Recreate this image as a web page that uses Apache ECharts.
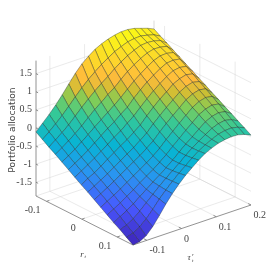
<!DOCTYPE html>
<html><head><meta charset="utf-8"><style>html,body{margin:0;padding:0;background:#fff}#c{width:277px;height:277px;filter:blur(0.35px)}</style>
<script src="https://cdn.jsdelivr.net/npm/echarts@6/dist/echarts.min.js"></script></head>
<body><div id="c"></div><script>
const rRange=[-0.13,0.145], tauRange=[-0.14,0.2], zRange=[-1.88,1.86];
const rTicks=[-0.1,0,0.1], tauTicks=[-0.1,0,0.1,0.2], zTicks=[-1.5,-1,-0.5,0,0.5,1,1.5];
const zLabel='Portfolio allocation';
// allocation[j][i]: j along tau (low to high), i along r (low to high)
const allocation=[
[-.11,-.23,-.35,-.46,-.58,-.70,-.82,-.94,-1.05,-1.17,-1.29,-1.41,-1.53,-1.64,-1.76,-1.88],
[.07,-.08,-.21,-.34,-.47,-.59,-.71,-.83,-.95,-1.07,-1.19,-1.31,-1.43,-1.57,-1.70,-1.85],
[.25,.08,-.07,-.21,-.35,-.48,-.60,-.73,-.84,-.96,-1.08,-1.20,-1.32,-1.46,-1.59,-1.75],
[.45,.25,.08,-.07,-.21,-.35,-.48,-.61,-.73,-.85,-.97,-1.08,-1.20,-1.31,-1.43,-1.56],
[.67,.44,.26,.08,-.07,-.21,-.35,-.48,-.61,-.73,-.85,-.96,-1.06,-1.14,-1.23,-1.32],
[.91,.64,.44,.25,.08,-.07,-.22,-.36,-.49,-.61,-.73,-.83,-.92,-.97,-1.01,-1.06],
[1.14,.83,.61,.41,.22,.07,-.09,-.23,-.37,-.49,-.61,-.71,-.78,-.80,-.82,-.83],
[1.34,1.00,.77,.55,.36,.19,.03,-.12,-.25,-.38,-.49,-.59,-.65,-.65,-.64,-.63],
[1.49,1.15,.92,.70,.50,.34,.18,.02,-.11,-.24,-.36,-.45,-.51,-.50,-.48,-.45],
[1.62,1.29,1.05,.83,.65,.47,.32,.16,.03,-.10,-.21,-.30,-.36,-.36,-.33,-.30],
[1.71,1.41,1.20,1.00,.82,.66,.50,.35,.22,.09,-.03,-.13,-.20,-.20,-.18,-.15],
[1.78,1.52,1.33,1.15,.98,.83,.67,.53,.39,.26,.13,.03,-.04,-.06,-.05,-.03],
[1.83,1.60,1.44,1.28,1.12,.98,.83,.69,.55,.42,.30,.19,.10,.07,.06,.06],
[1.86,1.67,1.53,1.39,1.25,1.11,.97,.83,.70,.57,.45,.34,.25,.19,.15,.13],
[1.86,1.70,1.60,1.48,1.36,1.23,1.10,.98,.85,.73,.61,.50,.39,.30,.23,.17],
[1.83,1.71,1.62,1.53,1.43,1.32,1.20,1.07,.95,.83,.71,.59,.48,.37,.27,.19],
[1.77,1.67,1.60,1.52,1.44,1.34,1.23,1.12,1.00,.88,.76,.64,.52,.40,.28,.18],
[1.71,1.62,1.55,1.48,1.40,1.31,1.20,1.08,.96,.85,.73,.61,.49,.36,.24,.13],
[1.63,1.52,1.42,1.31,1.21,1.10,1.00,.89,.79,.68,.58,.47,.37,.26,.16,.05]
];
const paletteStops=[0,.16,.31,.44,.57,.66,.72,.78,1];
const paletteColors=[[62,36,185],[72,88,255],[40,150,240],[8,180,212],[51,200,153],[127,205,89],[205,190,51],[255,187,60],[250,252,20]];
function cmap(t){t=Math.max(0,Math.min(1,t));let a=0;while(a<paletteStops.length-2&&t>paletteStops[a+1])a++;
 const k=(t-paletteStops[a])/(paletteStops[a+1]-paletteStops[a]);
 return 'rgb('+paletteColors[a].map((v,n)=>Math.round(v+(paletteColors[a+1][n]-v)*k)).join(',')+')';}
const corner={L:[36,196],F:[133,245],R:[251,205]};
const zScale=36.2;
function proj(r,t,z){
 const a=(r-rRange[0])/(rRange[1]-rRange[0]), b=(t-tauRange[0])/(tauRange[1]-tauRange[0]);
 const x=corner.L[0]+a*(corner.F[0]-corner.L[0])+b*(corner.R[0]-corner.F[0]);
 const y=corner.L[1]+a*(corner.F[1]-corner.L[1])+b*(corner.R[1]-corner.F[1])-(z-zRange[0])*zScale;
 return [x,y];
}
const nT=allocation.length,nR=allocation[0].length;
const rAt=i=>rRange[0]+(rRange[1]-rRange[0])*i/(nR-1), tAt=j=>tauRange[0]+(tauRange[1]-tauRange[0])*j/(nT-1);
const cells=[];
for(let i=0;i<nR-1;i++)for(let j=nT-2;j>=0;j--)cells.push([i,j]);
const [r0,r1]=rRange,[t0,t1]=tauRange,[z0,z1]=zRange;
const gridSegs=[];
rTicks.forEach(r=>{gridSegs.push([[r,t0,z0],[r,t1,z0]]);gridSegs.push([[r,t1,z0],[r,t1,z1]]);});
tauTicks.forEach(t=>{gridSegs.push([[r1,t,z0],[r0,t,z0]]);gridSegs.push([[r0,t,z0],[r0,t,z1]]);});
zTicks.forEach(z=>{gridSegs.push([[r0,t0,z],[r0,t1,z]]);gridSegs.push([[r0,t1,z],[r1,t1,z]]);});
gridSegs.push([[r0,t1,z0],[r0,t1,z1]],[[r0,t0,z0],[r0,t1,z0]],[[r0,t1,z0],[r1,t1,z0]]);
const axisSegs=[[[r0,t0,z0],[r0,t0,z1]],[[r0,t0,z0],[r1,t0,z0]],[[r1,t0,z0],[r1,t1,z0]]];
rTicks.forEach(r=>axisSegs.push([[r,t0,z0],[r,t0+0.008,z0]]));
tauTicks.forEach(t=>axisSegs.push([[r1,t,z0],[r1-0.008,t,z0]]));
zTicks.forEach(z=>axisSegs.push([[r0,t0,z],[r0+0.006,t0,z]]));
const fmt=v=>String(v);
const texts=[];
const serif='"Liberation Serif",serif';
zTicks.forEach(z=>{const p=proj(r0,t0,z);texts.push({x:p[0]-4,y:p[1],t:fmt(z),a:'right',s:10,f:serif});});
rTicks.forEach(r=>{const p=proj(r,t0,z0);texts.push({x:p[0]-6,y:p[1]+9,t:fmt(r),a:'right',s:10,f:serif});});
tauTicks.forEach(t=>{const p=proj(r1,t,z0);texts.push({x:p[0]+2.5,y:p[1]+10.5,t:fmt(t),a:'left',s:10,f:serif});});
texts.push({x:82,y:254.5,t:'r',a:'center',s:9,f:serif,st:'italic'},{x:84.5,y:257,t:'t',a:'left',s:5,f:serif,st:'italic'});
texts.push({x:189,y:258,t:'τ',a:'center',s:9,f:serif,st:'italic'},{x:192,y:261,t:'t',a:'left',s:5,f:serif,st:'italic'},{x:192,y:254.5,t:'r',a:'left',s:5,f:serif,st:'italic'});
const chart=echarts.init(document.getElementById('c'),null,{renderer:'canvas'});
const lineSeries=(data,color,w,z)=>({type:'custom',coordinateSystem:'cartesian2d',z,silent:true,data:data.map((_,k)=>[k]),clip:false,
 renderItem(p,api){const s=data[p.dataIndex];const a=api.coord(proj(...s[0])),b=api.coord(proj(...s[1]));
  return {type:'line',shape:{x1:a[0],y1:a[1],x2:b[0],y2:b[1]},style:{stroke:color,lineWidth:w}};}});
chart.setOption({animation:false,backgroundColor:'#fff',
 grid:{left:0,right:0,top:0,bottom:0},
 xAxis:{type:'value',min:0,max:277,show:false},
 yAxis:{type:'value',min:0,max:277,inverse:true,show:false},
 series:[
  lineSeries(gridSegs,'rgba(205,205,205,0.42)',1,1),
  lineSeries(axisSegs,'#777',0.8,2),
  {type:'custom',coordinateSystem:'cartesian2d',z:3,silent:true,clip:false,data:cells,
   renderItem(p,api){const i=api.value(0),j=api.value(1);
    const nodes=[[i,j],[i+1,j],[i+1,j+1],[i,j+1]];
    const zs=nodes.map(n=>allocation[n[1]][n[0]]);
    const pts=nodes.map((n,k)=>api.coord(proj(rAt(n[0]),tAt(n[1]),zs[k])));
    const m=zs.reduce((a,b)=>a+b)/4;
    return {type:'polygon',shape:{points:pts},style:{fill:cmap((m-z0)/(z1-z0)),stroke:'rgba(20,30,30,0.58)',lineWidth:0.6}};}},
  {type:'custom',coordinateSystem:'cartesian2d',z:4,silent:true,clip:false,data:texts.map((_,k)=>[k]),
   renderItem(p,api){const q=texts[p.dataIndex];const c=api.coord([q.x,q.y]);
    return {type:'text',x:c[0],y:c[1],style:{text:q.t,fill:'#444',font:(q.st?q.st+' ':'')+q.s+'px '+q.f,textAlign:q.a,textVerticalAlign:'middle'}};}},
  {type:'custom',coordinateSystem:'cartesian2d',z:4,silent:true,clip:false,data:[[0]],
   renderItem(p,api){const c=api.coord([12.5,130]);
    return {type:'text',x:c[0],y:c[1],rotation:Math.PI/2,style:{text:zLabel,fill:'#444',font:'9.2px "DejaVu Sans",sans-serif',textAlign:'center',textVerticalAlign:'middle'}};}}
 ]});
</script></body></html>
